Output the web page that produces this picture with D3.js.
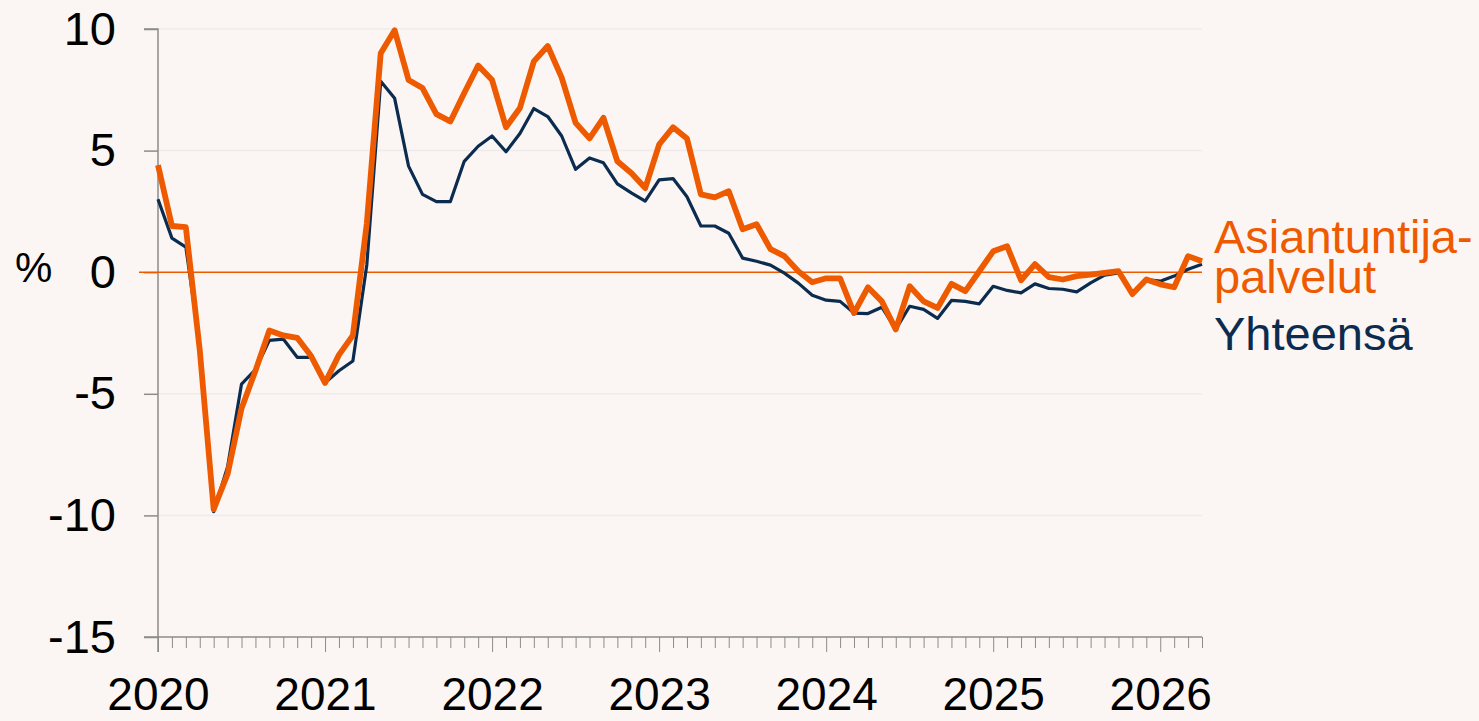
<!DOCTYPE html>
<html>
<head>
<meta charset="utf-8">
<script src="https://cdn.jsdelivr.net/npm/d3@7"></script>
<style>
  html, body { margin: 0; padding: 0; background: #FBF6F3; }
  svg { display: block; }
  text { font-family: "Liberation Sans", Arial, sans-serif; }
</style>
</head>
<body>
<svg id="chart" width="1479" height="721"></svg>
<script>
// ---- Data ----
const years = ["2020", "2021", "2022", "2023", "2024", "2025", "2026"];
const monthsInLastYear = 4; // Jan–Apr 2026
const yTicks = [-15, -10, -5, 0, 5, 10];

// Asiantuntijapalvelut (professional services), % change
const asiantuntija = [
  4.4, 1.9, 1.85, -3.2, -9.75, -8.3, -5.6, -4.05, -2.4, -2.6, -2.7, -3.45,
  -4.55, -3.4, -2.6, 2.0, 9.0, 9.95, 7.9, 7.57, 6.5, 6.2, 7.37, 8.5,
  7.9, 5.96, 6.75, 8.67, 9.3, 8.0, 6.14, 5.5, 6.35, 4.56, 4.08, 3.46,
  5.25, 5.96, 5.5, 3.2, 3.08, 3.33, 1.77, 1.97, 0.95, 0.66, 0.04, -0.41,
  -0.25, -0.25, -1.68, -0.62, -1.2, -2.35, -0.58, -1.2, -1.47, -0.48, -0.78, 0.04,
  0.86, 1.07, -0.33, 0.33, -0.2, -0.3, -0.16, -0.1, -0.03, 0.04, -0.9, -0.3,
  -0.5, -0.62, 0.66, 0.45
];

// Yhteensä (total), % change
const yhteensa = [
  3.0, 1.4, 1.03, -3.0, -9.85, -8.0, -4.6, -4.0, -2.8, -2.75, -3.5, -3.5,
  -4.55, -4.05, -3.65, 0.3, 7.85, 7.15, 4.36, 3.2, 2.9, 2.9, 4.56, 5.18,
  5.6, 4.95, 5.7, 6.73, 6.4, 5.6, 4.23, 4.7, 4.5, 3.63, 3.26, 2.92,
  3.8, 3.85, 3.1, 1.9, 1.9, 1.6, 0.58, 0.45, 0.29, -0.04, -0.45, -0.95,
  -1.15, -1.2, -1.68, -1.7, -1.44, -2.35, -1.4, -1.53, -1.9, -1.16, -1.2, -1.3,
  -0.58, -0.75, -0.85, -0.48, -0.67, -0.7, -0.81, -0.44, -0.12, -0.03, -0.85, -0.3,
  -0.37, -0.16, 0.12, 0.33
];

// month categories
const months = [];
years.forEach((yr, yi) => {
  const n = yi === years.length - 1 ? monthsInLastYear : 12;
  for (let m = 1; m <= n; m++) months.push(yr + "-" + String(m).padStart(2, "0"));
});

// ---- Layout ----
const svg = d3.select("#chart");
const mLeft = 158, mRight = 1202, mTop = 29, mBottom = 637;
const ORANGE = "#EE5A00", NAVY = "#0B2C4F";

const x = d3.scalePoint().domain(months).range([mLeft, mRight]);
const y = d3.scaleLinear().domain([-15, 10]).range([mBottom, mTop]);

// gridlines
svg.append("g").selectAll("line")
  .data(yTicks.filter(v => v !== 0 && v !== -15))
  .join("line")
  .attr("x1", mLeft).attr("x2", mRight)
  .attr("y1", d => y(d)).attr("y2", d => y(d))
  .attr("stroke", "#EFEBEA").attr("stroke-width", 1.5);

// y axis
const yAxis = svg.append("g")
  .attr("transform", `translate(${mLeft},0)`)
  .call(d3.axisLeft(y).tickValues(yTicks).tickSize(14).tickPadding(28).tickFormat(d => String(d)));
yAxis.select(".domain").attr("stroke", "#8C8C8C").attr("stroke-width", 1.5)
  .attr("d", `M-14,${mTop}H0V${mBottom + 15}`);
yAxis.selectAll(".tick line").attr("stroke", "#8C8C8C").attr("stroke-width", 1.5);
yAxis.selectAll(".tick text").attr("font-size", 47).attr("fill", "#000")
  .attr("font-family", "Liberation Sans, Arial, sans-serif");

// x axis
const xAxis = svg.append("g")
  .attr("transform", `translate(0,${mBottom})`)
  .call(d3.axisBottom(x).tickValues(months).tickSize(11)
    .tickFormat(d => d.endsWith("-01") ? d.slice(0, 4) : ""));
xAxis.select(".domain").attr("stroke", "#8C8C8C").attr("stroke-width", 1.5)
  .attr("d", `M${mLeft - 14},0H${mRight}`);
xAxis.selectAll(".tick line").attr("stroke", "#8C8C8C").attr("stroke-width", 1)
  .attr("y2", d => d.endsWith("-01") ? 15 : 11);
xAxis.selectAll(".tick text").attr("font-size", 46).attr("fill", "#000")
  .attr("font-family", "Liberation Sans, Arial, sans-serif")
  .attr("y", 73).attr("dy", 0);

// zero line
svg.append("line")
  .attr("x1", mLeft - 19).attr("x2", mRight)
  .attr("y1", y(0)).attr("y2", y(0))
  .attr("stroke", ORANGE).attr("stroke-width", 1.5);

// lines
const line = d3.line().x((d, i) => x(months[i])).y(d => y(d));
svg.append("path").datum(yhteensa)
  .attr("d", line).attr("fill", "none")
  .attr("stroke", NAVY).attr("stroke-width", 3.2).attr("stroke-linejoin", "round");
svg.append("path").datum(asiantuntija)
  .attr("d", line).attr("fill", "none")
  .attr("stroke", ORANGE).attr("stroke-width", 5.8).attr("stroke-linejoin", "round");

// "%" label
svg.append("text").attr("x", 15).attr("y", 282)
  .attr("font-size", 42).attr("fill", "#000").text("%");

// legend labels
const lg = svg.append("g").attr("font-size", 47);
const t1 = lg.append("text").attr("x", 1214).attr("y", 253).attr("fill", ORANGE);
t1.append("tspan").attr("x", 1214).attr("y", 253).text("Asiantuntija-");
t1.append("tspan").attr("x", 1214).attr("y", 293).text("palvelut");
lg.append("text").attr("x", 1214).attr("y", 350).attr("fill", NAVY).text("Yhteensä");
</script>
</body>
</html>
